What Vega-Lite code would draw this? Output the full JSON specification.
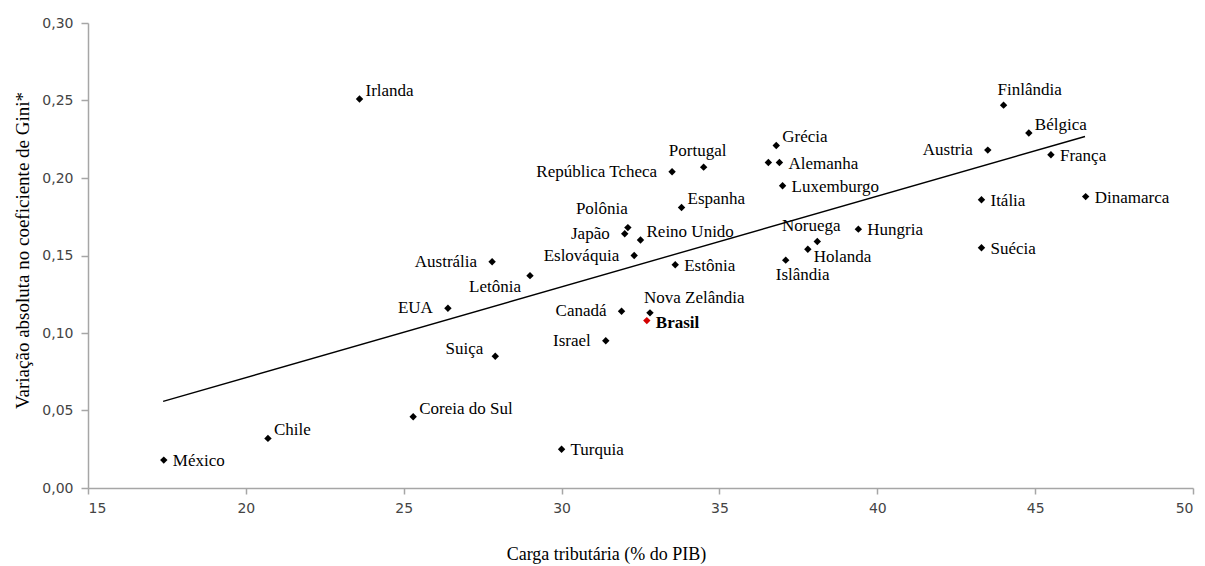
{
  "$schema": "https://vega.github.io/schema/vega-lite/v6.json",
  "width": 1105,
  "height": 465,
  "autosize": {"type": "none"},
  "padding": {"left": 88, "top": 23, "right": 12, "bottom": 78},
  "background": "white",
  "config": {"view": {"stroke": null}},
  "datasets": {
    "pts": [
      {"pais": "Irlanda", "carga": 23.6, "gini": 0.251, "lab": "upright", "grupo": "OCDE"},
      {"pais": "México", "carga": 17.4, "gini": 0.018, "lab": "right", "grupo": "OCDE"},
      {"pais": "Chile", "carga": 20.7, "gini": 0.032, "lab": "upright", "grupo": "OCDE"},
      {"pais": "Coreia do Sul", "carga": 25.3, "gini": 0.046, "lab": "upright", "grupo": "OCDE"},
      {"pais": "Turquia", "carga": 30.0, "gini": 0.025, "lab": "right", "grupo": "OCDE"},
      {"pais": "Suiça", "carga": 27.9, "gini": 0.085, "lab": "upleft", "grupo": "OCDE"},
      {"pais": "Israel", "carga": 31.4, "gini": 0.095, "lab": "left", "grupo": "OCDE"},
      {"pais": "Canadá", "carga": 31.9, "gini": 0.114, "lab": "left", "grupo": "OCDE"},
      {"pais": "Nova Zelândia", "carga": 32.8, "gini": 0.113, "lab": "aboveright", "grupo": "OCDE"},
      {"pais": "EUA", "carga": 26.4, "gini": 0.116, "lab": "left", "grupo": "OCDE"},
      {"pais": "Letônia", "carga": 29.0, "gini": 0.137, "lab": "downleft", "grupo": "OCDE"},
      {"pais": "Austrália", "carga": 27.8, "gini": 0.146, "lab": "left", "grupo": "OCDE"},
      {"pais": "Eslováquia", "carga": 32.3, "gini": 0.150, "lab": "left", "grupo": "OCDE"},
      {"pais": "Estônia", "carga": 33.6, "gini": 0.144, "lab": "right", "grupo": "OCDE"},
      {"pais": "Japão", "carga": 32.0, "gini": 0.164, "lab": "left", "grupo": "OCDE"},
      {"pais": "Polônia", "carga": 32.1, "gini": 0.168, "lab": "aboveleft", "grupo": "OCDE"},
      {"pais": "Reino Unido", "carga": 32.5, "gini": 0.160, "lab": "upright", "grupo": "OCDE"},
      {"pais": "Espanha", "carga": 33.8, "gini": 0.181, "lab": "upright", "grupo": "OCDE"},
      {"pais": "República Tcheca", "carga": 33.5, "gini": 0.204, "lab": "left", "grupo": "OCDE"},
      {"pais": "Portugal", "carga": 34.5, "gini": 0.207, "lab": "above", "grupo": "OCDE"},
      {"pais": "Grécia", "carga": 36.8, "gini": 0.221, "lab": "upright", "grupo": "OCDE"},
      {"pais": "", "carga": 36.55, "gini": 0.210, "lab": "none", "grupo": "OCDE"},
      {"pais": "Alemanha", "carga": 36.9, "gini": 0.210, "lab": "right", "grupo": "OCDE"},
      {"pais": "Luxemburgo", "carga": 37.0, "gini": 0.195, "lab": "right", "grupo": "OCDE"},
      {"pais": "Islândia", "carga": 37.1, "gini": 0.147, "lab": "belowright", "grupo": "OCDE"},
      {"pais": "Holanda", "carga": 37.8, "gini": 0.154, "lab": "downright", "grupo": "OCDE"},
      {"pais": "Noruega", "carga": 38.1, "gini": 0.159, "lab": "above", "grupo": "OCDE"},
      {"pais": "Hungria", "carga": 39.4, "gini": 0.167, "lab": "right", "grupo": "OCDE"},
      {"pais": "Itália", "carga": 43.3, "gini": 0.186, "lab": "right", "grupo": "OCDE"},
      {"pais": "Suécia", "carga": 43.3, "gini": 0.155, "lab": "right", "grupo": "OCDE"},
      {"pais": "Austria", "carga": 43.5, "gini": 0.218, "lab": "left", "grupo": "OCDE"},
      {"pais": "Finlândia", "carga": 44.0, "gini": 0.247, "lab": "aboveright", "grupo": "OCDE"},
      {"pais": "Bélgica", "carga": 44.8, "gini": 0.229, "lab": "upright", "grupo": "OCDE"},
      {"pais": "França", "carga": 45.5, "gini": 0.215, "lab": "right", "grupo": "OCDE"},
      {"pais": "Dinamarca", "carga": 46.6, "gini": 0.188, "lab": "right", "grupo": "OCDE"},
      {"pais": "Brasil", "carga": 32.7, "gini": 0.108, "lab": "brasil", "grupo": "Brasil"}
    ],
    "trend": [
      {"carga": 17.38, "gini": 0.0559},
      {"carga": 46.58, "gini": 0.2268}
    ]
  },
  "encoding": {
    "x": {
      "field": "carga", "type": "quantitative",
      "scale": {"domain": [15, 50], "nice": false, "zero": false},
      "axis": {
        "values": [15, 20, 25, 30, 35, 40, 45, 50],
        "grid": false,
        "domainColor": "#a6a6a6", "domainWidth": 1.5,
        "tickColor": "#a6a6a6", "tickSize": 6, "tickWidth": 1.5,
        "labelFont": "DejaVu Sans", "labelFontSize": 14, "labelColor": "#444444", "labelPadding": 7,
        "title": "Carga tributária (% do PIB)",
        "titleFont": "Liberation Serif, Times New Roman, serif", "titleFontSize": 18, "titleFontWeight": "normal", "titleColor": "#000000",
        "titleX": 518, "titleY": 66, "titleAnchor": null, "titleAlign": "center", "titleBaseline": "middle"
      }
    },
    "y": {
      "field": "gini", "type": "quantitative",
      "scale": {"domain": [0, 0.3], "nice": false},
      "axis": {
        "values": [0, 0.05, 0.1, 0.15, 0.2, 0.25, 0.3],
        "labelExpr": "replace(format(datum.value, '.2f'), '.', ',')",
        "grid": false,
        "domainColor": "#a6a6a6", "domainWidth": 1.5,
        "tickColor": "#a6a6a6", "tickSize": 7, "tickWidth": 1.5,
        "labelFont": "DejaVu Sans", "labelFontSize": 14, "labelColor": "#444444", "labelPadding": 8,
        "title": "Variação absoluta no coeficiente de Gini*",
        "titleFont": "Liberation Serif, Times New Roman, serif", "titleFontSize": 19, "titleFontWeight": "normal", "titleColor": "#000000",
        "titleX": -66, "titleY": 227, "titleAngle": -90, "titleAlign": "center", "titleBaseline": "middle"
      }
    }
  },
  "layer": [
    {
      "data": {"name": "trend"},
      "mark": {"type": "line", "color": "#000000", "strokeWidth": 1.4}
    },
    {
      "data": {"name": "pts"},
      "mark": {"type": "point", "shape": "diamond", "filled": true, "size": 55, "opacity": 1},
      "encoding": {
        "color": {"field": "grupo", "type": "nominal", "scale": {"domain": ["OCDE", "Brasil"], "range": ["#000000", "#d40000"]}, "legend": null}
      }
    },
    {
      "data": {"name": "pts"},
      "transform": [{"filter": "datum.lab === 'right'"}],
      "mark": {"type": "text", "align": "left", "baseline": "middle", "dx": 9, "dy": 1, "font": "Liberation Serif, Times New Roman, serif", "fontSize": 17, "color": "#000000"},
      "encoding": {"text": {"field": "pais"}}
    },
    {
      "data": {"name": "pts"},
      "transform": [{"filter": "datum.lab === 'brasil'"}],
      "mark": {"type": "text", "align": "left", "baseline": "middle", "dx": 9, "dy": 2, "font": "Liberation Serif, Times New Roman, serif", "fontSize": 17, "fontWeight": "bold", "color": "#000000"},
      "encoding": {"text": {"field": "pais"}}
    },
    {
      "data": {"name": "pts"},
      "transform": [{"filter": "datum.lab === 'upright'"}],
      "mark": {"type": "text", "align": "left", "baseline": "middle", "dx": 6, "dy": -8, "font": "Liberation Serif, Times New Roman, serif", "fontSize": 17, "color": "#000000"},
      "encoding": {"text": {"field": "pais"}}
    },
    {
      "data": {"name": "pts"},
      "transform": [{"filter": "datum.lab === 'downright'"}],
      "mark": {"type": "text", "align": "left", "baseline": "middle", "dx": 6, "dy": 8, "font": "Liberation Serif, Times New Roman, serif", "fontSize": 17, "color": "#000000"},
      "encoding": {"text": {"field": "pais"}}
    },
    {
      "data": {"name": "pts"},
      "transform": [{"filter": "datum.lab === 'belowright'"}],
      "mark": {"type": "text", "align": "left", "baseline": "middle", "dx": -10, "dy": 15, "font": "Liberation Serif, Times New Roman, serif", "fontSize": 17, "color": "#000000"},
      "encoding": {"text": {"field": "pais"}}
    },
    {
      "data": {"name": "pts"},
      "transform": [{"filter": "datum.lab === 'left'"}],
      "mark": {"type": "text", "align": "right", "baseline": "middle", "dx": -15, "dy": 0, "font": "Liberation Serif, Times New Roman, serif", "fontSize": 17, "color": "#000000"},
      "encoding": {"text": {"field": "pais"}}
    },
    {
      "data": {"name": "pts"},
      "transform": [{"filter": "datum.lab === 'upleft'"}],
      "mark": {"type": "text", "align": "right", "baseline": "middle", "dx": -12, "dy": -7, "font": "Liberation Serif, Times New Roman, serif", "fontSize": 17, "color": "#000000"},
      "encoding": {"text": {"field": "pais"}}
    },
    {
      "data": {"name": "pts"},
      "transform": [{"filter": "datum.lab === 'downleft'"}],
      "mark": {"type": "text", "align": "right", "baseline": "middle", "dx": -9, "dy": 11, "font": "Liberation Serif, Times New Roman, serif", "fontSize": 17, "color": "#000000"},
      "encoding": {"text": {"field": "pais"}}
    },
    {
      "data": {"name": "pts"},
      "transform": [{"filter": "datum.lab === 'above'"}],
      "mark": {"type": "text", "align": "center", "baseline": "middle", "dx": -6, "dy": -16, "font": "Liberation Serif, Times New Roman, serif", "fontSize": 17, "color": "#000000"},
      "encoding": {"text": {"field": "pais"}}
    },
    {
      "data": {"name": "pts"},
      "transform": [{"filter": "datum.lab === 'aboveright'"}],
      "mark": {"type": "text", "align": "left", "baseline": "middle", "dx": -6, "dy": -15, "font": "Liberation Serif, Times New Roman, serif", "fontSize": 17, "color": "#000000"},
      "encoding": {"text": {"field": "pais"}}
    },
    {
      "data": {"name": "pts"},
      "transform": [{"filter": "datum.lab === 'aboveleft'"}],
      "mark": {"type": "text", "align": "right", "baseline": "middle", "dx": 0, "dy": -19, "font": "Liberation Serif, Times New Roman, serif", "fontSize": 17, "color": "#000000"},
      "encoding": {"text": {"field": "pais"}}
    }
  ]
}
